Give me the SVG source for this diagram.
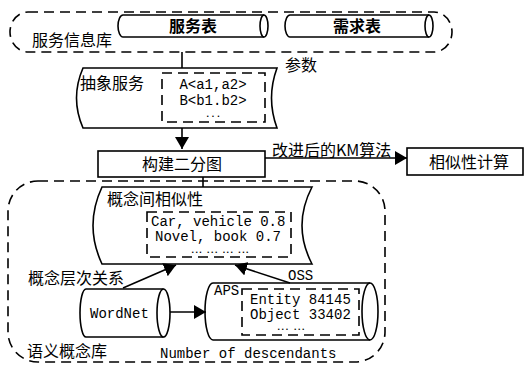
<svg xmlns="http://www.w3.org/2000/svg" width="532" height="368" viewBox="0 0 532 368">
<defs>
<style>
.s{fill:none;stroke:#000;stroke-width:1.6}
.w{fill:#fff;stroke:#000;stroke-width:1.6}
.d{fill:none;stroke:#000;stroke-width:1.6;stroke-dasharray:10 6}
.cn{font-family:"Noto Sans CJK SC","Noto Sans",sans-serif;font-size:16px;fill:#000}
.b{font-weight:bold}
.m{font-family:"Liberation Mono","DejaVu Sans Mono",monospace;font-size:14px;fill:#000}
.c{text-anchor:middle}
.dot{font-size:9px;font-weight:bold}
</style>
<marker id="ah" markerUnits="userSpaceOnUse" markerWidth="12" markerHeight="14" refX="12" refY="7" orient="auto">
<path d="M0,0 L12,7 L0,14 Z" fill="#000"/>
</marker>
</defs>
<rect width="532" height="368" fill="#fff"/>

<g id="service-info-lib">
<rect class="d" x="10" y="12" width="442" height="40" rx="18" ry="20"/>
<text class="cn" x="32" y="46">服务信息库</text>
</g>

<g id="service-table">
<path class="w" d="M123,15 H264 A4,11 0 0 1 264,37 H123 A5,11 0 0 1 123,15 Z"/>
<path class="s" d="M264,15 A4,11 0 0 0 264,37"/>
<text class="cn b c" x="193" y="32" font-size="15">服务表</text>
</g>

<g id="demand-table">
<path class="w" d="M290,15 H429 A4,11 0 0 1 429,37 H290 A5,11 0 0 1 290,15 Z"/>
<path class="s" d="M429,15 A4,11 0 0 0 429,37"/>
<text class="cn b c" x="357" y="32" font-size="15">需求表</text>
</g>

<g id="abstract-service">
<path class="w" d="M83,68 H277 Q266,98 277,128 H83 Q70,98 83,68 Z"/>
<text class="cn" x="80" y="89">抽象服务</text>
<rect class="d" x="162" y="73" width="103" height="49"/>
<text class="m c" x="213" y="89">A&lt;a1,a2&gt;<tspan x="213" dy="16">B&lt;b1.b2&gt;</tspan><tspan class="dot" x="213" dy="12">...</tspan></text>
</g>
<text id="param-label" class="cn" x="285" y="71" font-size="15">参数</text>

<g id="build-bipartite">
<rect class="w" x="98" y="151" width="167" height="26"/>
<text class="cn c" x="182" y="170">构建二分图</text>
</g>

<g id="similarity-calc">
<rect class="w" x="407" y="148" width="116" height="27"/>
<text class="cn c" x="469" y="168">相似性计算</text>
</g>

<g id="semantic-concept-lib">
<rect class="d" x="8" y="181" width="377" height="181" rx="30" ry="30"/>
<text class="cn" x="27" y="357">语义概念库</text>
<text class="m" x="160" y="358">Number of descendants</text>
</g>

<g id="concept-similarity">
<path class="w" d="M102,187 H312 Q292,225.5 312,264 H102 Q84,225.5 102,187 Z"/>
<text class="cn" x="107" y="205">概念间相似性</text>
<rect class="d" x="147" y="212" width="144" height="45"/>
<text class="m" x="151" y="226">Car, vehicle 0.8<tspan x="155" dy="15">Novel, book 0.7</tspan><tspan class="dot" x="190" dy="12" textLength="60" lengthAdjust="spacing">... ... ... ...</tspan></text>
</g>

<g id="wordnet">
<path class="w" d="M86,289 H163.5 A6.5,24 0 0 1 163.5,337 H86 A6,24 0 0 1 86,289 Z"/>
<path class="s" d="M163.5,289 A6.5,24 0 0 0 163.5,337"/>
<text class="m" x="90" y="318">WordNet</text>
</g>

<g id="aps">
<path class="w" d="M213,283 H370 A8,28.5 0 0 1 370,340 H213 A8,28.5 0 0 1 213,283 Z"/>
<path class="s" d="M370,283 A8,28.5 0 0 0 370,340"/>
<text class="m" x="214" y="295" font-size="12">APS</text>
<rect class="d" x="242" y="289" width="117" height="46"/>
<text class="m" x="250" y="304">Entity 84145<tspan x="250" dy="15">Object 33402</tspan><tspan class="dot" x="276" dy="11" textLength="30" lengthAdjust="spacing">... ...</tspan></text>
</g>

<g id="connectors">
<line class="s" x1="182" y1="52" x2="182" y2="68"/>
<line class="s" x1="182" y1="128" x2="182" y2="149" marker-end="url(#ah)"/>
<line class="s" x1="265" y1="158" x2="407" y2="158" marker-end="url(#ah)"/>
<line class="s" x1="203" y1="177" x2="203" y2="187"/>
<line class="s" x1="123" y1="288" x2="176" y2="265" marker-end="url(#ah)"/>
<line class="s" x1="290" y1="283" x2="235" y2="265" marker-end="url(#ah)"/>
<line class="s" x1="170" y1="312" x2="206" y2="312" marker-end="url(#ah)"/>
<text class="cn" x="272" y="156" font-size="15">改进后的KM算法</text>
<text class="cn" x="28" y="284">概念层次关系</text>
<text class="m" x="288" y="280">OSS</text>
</g>
</svg>
